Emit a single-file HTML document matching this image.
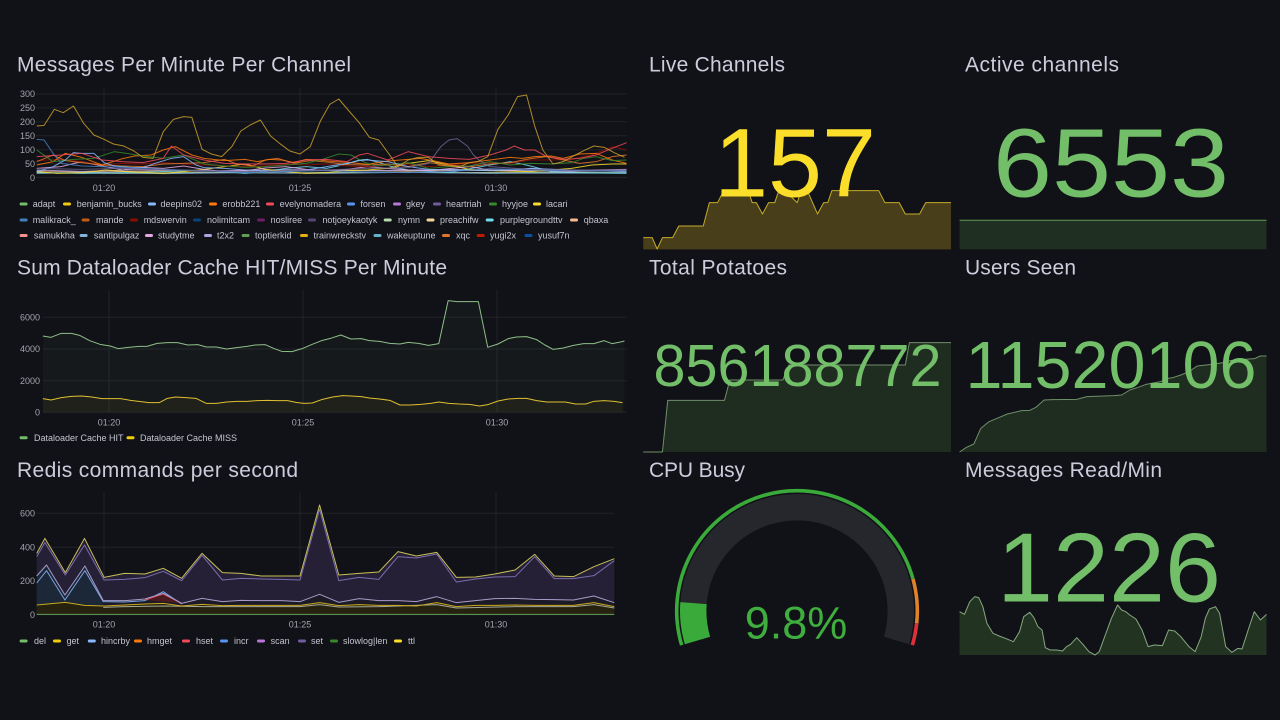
<!DOCTYPE html>
<html><head><meta charset="utf-8"><style>
html,body{margin:0;padding:0;background:#111217;width:1280px;height:720px;overflow:hidden}
svg{display:block}
text{font-family:"Liberation Sans",Arial,sans-serif}
.t{fill:#ccccdc;font-size:21px}
.tk{fill:#a4a5ad;font-size:9px}
.lg{fill:#c4c4d0;font-size:9px}
.g line{stroke:#212328;stroke-width:1}
.s polyline{fill:none;stroke-width:1;vector-effect:non-scaling-stroke;stroke-linejoin:round}
.s polygon{stroke:none}
.c1 polyline{stroke-opacity:0.85}
</style></head><body>
<svg width="1280" height="720" viewBox="0 0 1280 720" xmlns="http://www.w3.org/2000/svg">
<rect width="1280" height="720" fill="#111217"/>

<!-- ===== Titles ===== -->
<text class="t" x="17" y="71.7" textLength="334">Messages Per Minute Per Channel</text>
<text class="t" x="649" y="71.7" textLength="136">Live Channels</text>
<text class="t" x="965" y="71.7" textLength="154">Active channels</text>
<text class="t" x="17" y="274.3" textLength="430">Sum Dataloader Cache HIT/MISS Per Minute</text>
<text class="t" x="649" y="274.3" textLength="138">Total Potatoes</text>
<text class="t" x="965" y="274.3" textLength="111">Users Seen</text>
<text class="t" x="17" y="477" textLength="281">Redis commands per second</text>
<text class="t" x="649" y="477" textLength="96">CPU Busy</text>
<text class="t" x="965" y="477" textLength="197">Messages Read/Min</text>

<!-- ===== Chart 1 ===== -->
<g class="g">
<line x1="36" y1="177.5" x2="627" y2="177.5"/><line x1="36" y1="163.6" x2="627" y2="163.6"/>
<line x1="36" y1="149.7" x2="627" y2="149.7"/><line x1="36" y1="135.8" x2="627" y2="135.8"/>
<line x1="36" y1="121.8" x2="627" y2="121.8"/><line x1="36" y1="107.9" x2="627" y2="107.9"/>
<line x1="36" y1="94" x2="627" y2="94"/>
<line x1="104" y1="88" x2="104" y2="177.5"/><line x1="300" y1="88" x2="300" y2="177.5"/><line x1="496" y1="88" x2="496" y2="177.5"/>
</g>
<g class="tk" text-anchor="end">
<text x="35" y="97">300</text><text x="35" y="111">250</text><text x="35" y="125">200</text>
<text x="35" y="139">150</text><text x="35" y="153">100</text><text x="35" y="167">50</text><text x="35" y="181">0</text>
</g>
<g class="tk" text-anchor="middle"><text x="104" y="191">01:20</text><text x="300" y="191">01:25</text><text x="496" y="191">01:30</text></g>

<g class="s c1" transform="translate(0,40) scale(0.408163,0.333333)">
<polyline stroke="#B7DBAB" points="90,398 300,400 500,397 700,399 900,396 1100,398 1300,397 1535,398"/>
<polyline stroke="#F9BA8F" points="90,393 250,396 400,392 600,394 800,390 1000,393 1200,391 1400,394 1535,392"/>
<polyline stroke="#82B5D8" points="90,400 200,397 400,401 600,398 800,400 1000,397 1200,400 1535,399"/>
<polyline stroke="#AEA2E0" points="90,390 200,394 350,389 500,393 700,389 900,392 1100,388 1300,393 1535,391"/>
<polyline stroke="#70DBED" points="90,398 200,400 300,398 400,395 500,390 550,395 600,400 650,395 700,385 750,380 800,385 850,372 880,360 900,358 930,368 960,380 1000,390 1100,398 1200,375 1250,365 1300,378 1350,395 1400,398 1535,400"/>
<polyline stroke="#FADE2A" points="90,395 140,400 200,398 260,390 310,395 360,398 400,400 450,395 500,388 550,380 600,372 650,388 700,395 750,400 800,398 850,392 900,390 950,385 975,378 1000,370 1050,362 1100,375 1150,388 1200,392 1300,395 1400,385 1450,375 1500,372 1535,372"/>
<polyline stroke="#E5A8E2" points="90,385 150,380 200,365 250,378 300,390 350,382 400,385 450,378 500,388 550,395 600,392 650,384 700,380 750,388 800,392 850,388 900,380 950,385 1000,390 1050,392 1100,386 1150,380 1200,390 1250,392 1300,385 1350,392 1400,395 1450,390 1535,388"/>
<polyline stroke="#890F02" points="90,362 150,358 200,365 250,375 300,370 350,372 400,368 450,372 500,375 550,378 600,380 650,378 700,372 750,375 800,372 850,378 900,380 950,376 1000,372 1050,380 1100,375 1150,370 1200,368 1250,370 1300,360 1350,360 1400,358 1450,345 1500,320 1535,330"/>
<polyline stroke="#E0752D" points="90,365 130,345 160,362 200,368 250,375 300,378 350,380 400,372 450,370 500,368 550,358 580,372 620,378 650,360 680,355 720,370 760,362 800,366 850,374 900,375 950,372 1000,380 1050,368 1100,375 1150,380 1200,372 1250,368 1300,356 1340,350 1380,360 1420,370 1460,365 1500,350 1535,345"/>
<polyline stroke="#FF780A" points="90,375 130,365 160,340 200,352 250,375 300,356 330,348 370,345 400,330 430,320 470,345 500,355 550,362 600,358 630,365 660,358 690,360 720,368 750,358 780,360 820,365 860,368 900,373 950,363 1000,358 1030,355 1060,362 1100,372 1150,368 1200,360 1250,352 1280,355 1310,350 1350,348 1380,355 1420,342 1460,340 1500,360 1535,370"/>
<polyline stroke="#37872D" points="90,330 130,365 180,358 230,355 280,335 310,340 350,348 400,355 450,345 500,372 550,378 600,382 650,380 700,375 750,370 790,358 830,342 860,345 890,365 920,378 950,375 1000,368 1050,385 1100,380 1150,378 1200,365 1250,375 1300,370 1350,372 1400,368 1430,355 1460,350 1500,362 1535,360"/>
<polyline stroke="#8AB8FF" points="90,395 130,380 160,360 180,338 200,340 230,340 255,368 280,378 320,382 350,383 380,370 420,355 450,350 480,375 500,383 550,385 600,390 650,392 700,395 750,390 800,380 850,370 880,362 900,360 950,365 1000,380 1050,388 1100,390 1200,392 1300,385 1400,390 1535,395"/>
<polyline stroke="#447EBC" points="90,298 108,300 130,340 150,370 200,378 300,382 400,388 500,392 600,398 700,395 800,392 900,396 1000,398 1100,395 1200,386 1300,390 1400,393 1535,392"/>
<polyline stroke="#6f6490" points="90,385 200,388 300,385 400,390 500,392 600,395 700,392 800,390 900,385 1000,383 1050,370 1080,320 1100,300 1120,296 1145,318 1160,345 1175,362 1200,380 1300,388 1400,390 1535,390"/>
<polyline stroke="#F2495C" points="90,350 150,345 200,340 250,360 300,365 350,368 400,355 420,318 450,345 500,360 550,370 600,372 650,372 700,370 750,360 800,358 850,365 880,345 900,340 950,360 1000,335 1050,350 1100,355 1150,358 1200,345 1240,330 1260,318 1285,330 1310,330 1340,350 1380,358 1420,355 1460,345 1500,325 1535,308"/>
<polyline stroke="#C9A02C" points="90,258 108,256 133,208 155,218 180,198 205,250 230,285 255,298 278,312 303,318 328,333 350,352 375,355 400,275 425,238 450,230 470,232 495,328 518,342 543,350 568,320 590,273 613,255 638,240 663,288 688,313 710,333 735,342 760,320 785,243 808,193 830,177 855,213 880,248 905,292 928,300 953,342 975,380 1000,360 1025,352 1050,352 1075,375 1100,378 1125,380 1150,368 1170,365 1195,350 1220,268 1245,225 1268,170 1290,165 1310,258 1330,330 1355,372 1380,365 1405,348 1430,332 1455,318 1480,322 1505,338 1530,352"/>
</g>

<!-- Chart 1 legend -->
<g>
<rect x="19.6" y="202.5" width="8" height="3" rx="1.5" fill="#73BF69"/><text class="lg" x="32.7" y="207.2">adapt</text>
<rect x="63" y="202.5" width="8" height="3" rx="1.5" fill="#F2CC0C"/><text class="lg" x="76.7" y="207.2">benjamin_bucks</text>
<rect x="148" y="202.5" width="8" height="3" rx="1.5" fill="#8AB8FF"/><text class="lg" x="160.5" y="207.2">deepins02</text>
<rect x="209" y="202.5" width="8" height="3" rx="1.5" fill="#FF780A"/><text class="lg" x="222.4" y="207.2">erobb221</text>
<rect x="266" y="202.5" width="8" height="3" rx="1.5" fill="#F2495C"/><text class="lg" x="279.6" y="207.2">evelynomadera</text>
<rect x="347" y="202.5" width="8" height="3" rx="1.5" fill="#5794F2"/><text class="lg" x="360.4" y="207.2">forsen</text>
<rect x="393" y="202.5" width="8" height="3" rx="1.5" fill="#B877D9"/><text class="lg" x="406" y="207.2">gkey</text>
<rect x="433" y="202.5" width="8" height="3" rx="1.5" fill="#705DA0"/><text class="lg" x="446" y="207.2">heartriah</text>
<rect x="489" y="202.5" width="8" height="3" rx="1.5" fill="#37872D"/><text class="lg" x="502" y="207.2">hyyjoe</text>
<rect x="533" y="202.5" width="8" height="3" rx="1.5" fill="#FADE2A"/><text class="lg" x="546" y="207.2">lacari</text>

<rect x="19.6" y="218.5" width="8" height="3" rx="1.5" fill="#447EBC"/><text class="lg" x="32.7" y="223.2">malikrack_</text>
<rect x="81.6" y="218.5" width="8" height="3" rx="1.5" fill="#C15C17"/><text class="lg" x="96" y="223.2">mande</text>
<rect x="130" y="218.5" width="8" height="3" rx="1.5" fill="#890F02"/><text class="lg" x="143.7" y="223.2">mdswervin</text>
<rect x="193" y="218.5" width="8" height="3" rx="1.5" fill="#0A437C"/><text class="lg" x="207" y="223.2">nolimitcam</text>
<rect x="257" y="218.5" width="8" height="3" rx="1.5" fill="#6D1F62"/><text class="lg" x="270.6" y="223.2">nosliree</text>
<rect x="308" y="218.5" width="8" height="3" rx="1.5" fill="#584477"/><text class="lg" x="322.4" y="223.2">notjoeykaotyk</text>
<rect x="383.7" y="218.5" width="8" height="3" rx="1.5" fill="#B7DBAB"/><text class="lg" x="398" y="223.2">nymn</text>
<rect x="426.5" y="218.5" width="8" height="3" rx="1.5" fill="#F4D598"/><text class="lg" x="440" y="223.2">preachifw</text>
<rect x="485.7" y="218.5" width="8" height="3" rx="1.5" fill="#70DBED"/><text class="lg" x="500" y="223.2">purplegroundttv</text>
<rect x="570" y="218.5" width="8" height="3" rx="1.5" fill="#F9BA8F"/><text class="lg" x="583.7" y="223.2">qbaxa</text>

<rect x="19.6" y="234" width="8" height="3" rx="1.5" fill="#F29191"/><text class="lg" x="33.9" y="238.7">samukkha</text>
<rect x="79.6" y="234" width="8" height="3" rx="1.5" fill="#82B5D8"/><text class="lg" x="93.9" y="238.7">santipulgaz</text>
<rect x="145" y="234" width="8" height="3" rx="1.5" fill="#E5A8E2"/><text class="lg" x="158" y="238.7">studytme</text>
<rect x="204" y="234" width="8" height="3" rx="1.5" fill="#AEA2E0"/><text class="lg" x="217" y="238.7">t2x2</text>
<rect x="241.6" y="234" width="8" height="3" rx="1.5" fill="#629E51"/><text class="lg" x="255" y="238.7">toptierkid</text>
<rect x="300" y="234" width="8" height="3" rx="1.5" fill="#E5AC0E"/><text class="lg" x="313.5" y="238.7">trainwreckstv</text>
<rect x="373.5" y="234" width="8" height="3" rx="1.5" fill="#64B0C8"/><text class="lg" x="387" y="238.7">wakeuptune</text>
<rect x="442" y="234" width="8" height="3" rx="1.5" fill="#E0752D"/><text class="lg" x="456" y="238.7">xqc</text>
<rect x="476.7" y="234" width="8" height="3" rx="1.5" fill="#BF1B00"/><text class="lg" x="490" y="238.7">yugi2x</text>
<rect x="524.5" y="234" width="8" height="3" rx="1.5" fill="#0A50A1"/><text class="lg" x="538" y="238.7">yusuf7n</text>
</g>

<!-- ===== Chart 2 Dataloader ===== -->
<g class="g">
<line x1="43" y1="412.3" x2="627" y2="412.3"/><line x1="43" y1="380.7" x2="627" y2="380.7"/>
<line x1="43" y1="349" x2="627" y2="349"/><line x1="43" y1="317.3" x2="627" y2="317.3"/>
<line x1="109" y1="290" x2="109" y2="412.3"/><line x1="303" y1="290" x2="303" y2="412.3"/><line x1="497" y1="290" x2="497" y2="412.3"/>
</g>
<g class="tk" text-anchor="end">
<text x="40" y="320.5">6000</text><text x="40" y="352">4000</text><text x="40" y="384">2000</text><text x="40" y="415.5">0</text>
</g>
<g class="tk" text-anchor="middle"><text x="109" y="425.5">01:20</text><text x="303" y="425.5">01:25</text><text x="497" y="425.5">01:30</text></g>
<g class="s" transform="translate(0,250) scale(0.408163,0.333333)">
<polygon fill="#73BF69" fill-opacity="0.045" points="105,258 125,262 150,250 175,250 195,256 220,272 245,283 270,288 290,296 315,292 340,289 360,289 385,280 410,278 435,278 460,285 485,284 505,291 530,291 555,297 580,293 605,289 625,285 650,284 670,295 690,304 715,305 740,296 765,283 790,271 810,265 835,255 860,267 885,266 905,272 930,274 955,280 980,282 1000,277 1025,280 1050,286 1075,281 1098,152 1120,155 1145,155 1172,155 1195,292 1220,282 1245,266 1265,261 1290,260 1315,269 1335,285 1355,298 1380,294 1405,286 1430,281 1455,281 1480,272 1500,281 1520,276 1530,273 1530,487 105,487"/>
<polygon fill="#F2CC0C" fill-opacity="0.05" points="105,446 125,450 150,443 175,439 200,438 225,441 250,446 275,446 295,446 320,451 345,455 365,458 390,458 410,445 430,441 455,443 480,445 505,460 530,460 555,456 580,454 605,454 630,452 655,451 680,452 705,452 725,457 745,460 765,459 790,448 815,441 840,437 860,438 885,440 905,444 930,447 955,451 980,465 1005,465 1030,463 1055,460 1075,456 1100,460 1125,462 1150,463 1175,468 1195,464 1220,453 1245,447 1270,445 1290,445 1315,452 1340,456 1365,456 1385,456 1410,462 1435,462 1455,454 1480,452 1505,454 1525,458 1525,487 105,487"/>
<polyline stroke="#8fbf88" points="105,258 125,262 150,250 175,250 195,256 220,272 245,283 270,288 290,296 315,292 340,289 360,289 385,280 410,278 435,278 460,285 485,284 505,291 530,291 555,297 580,293 605,289 625,285 650,284 670,295 690,304 715,305 740,296 765,283 790,271 810,265 835,255 860,267 885,266 905,272 930,274 955,280 980,282 1000,277 1025,280 1050,286 1075,281 1098,152 1120,155 1145,155 1172,155 1195,292 1220,282 1245,266 1265,261 1290,260 1315,269 1335,285 1355,298 1380,294 1405,286 1430,281 1455,281 1480,272 1500,281 1520,276 1530,273"/>
<polyline stroke="#E0C030" points="105,446 125,450 150,443 175,439 200,438 225,441 250,446 275,446 295,446 320,451 345,455 365,458 390,458 410,445 430,441 455,443 480,445 505,460 530,460 555,456 580,454 605,454 630,452 655,451 680,452 705,452 725,457 745,460 765,459 790,448 815,441 840,437 860,438 885,440 905,444 930,447 955,451 980,465 1005,465 1030,463 1055,460 1075,456 1100,460 1125,462 1150,463 1175,468 1195,464 1220,453 1245,447 1270,445 1290,445 1315,452 1340,456 1365,456 1385,456 1410,462 1435,462 1455,454 1480,452 1505,454 1525,458"/>
</g>
<rect x="19.6" y="436.2" width="8" height="3" rx="1.5" fill="#73BF69"/><text class="lg" x="34" y="440.9">Dataloader Cache HIT</text>
<rect x="126.5" y="436.2" width="8" height="3" rx="1.5" fill="#F2CC0C"/><text class="lg" x="140" y="440.9">Dataloader Cache MISS</text>

<!-- ===== Chart 3 Redis ===== -->
<g class="g">
<line x1="36.7" y1="614.7" x2="614" y2="614.7"/><line x1="36.7" y1="581" x2="614" y2="581"/>
<line x1="36.7" y1="547.3" x2="614" y2="547.3"/><line x1="36.7" y1="513.3" x2="614" y2="513.3"/>
<line x1="104" y1="493" x2="104" y2="614.7"/><line x1="300" y1="493" x2="300" y2="614.7"/><line x1="496" y1="493" x2="496" y2="614.7"/>
</g>
<g class="tk" text-anchor="end">
<text x="35" y="516.5">600</text><text x="35" y="550.5">400</text><text x="35" y="584">200</text><text x="35" y="618">0</text>
</g>
<g class="tk" text-anchor="middle"><text x="104" y="627.5">01:20</text><text x="300" y="627.5">01:25</text><text x="496" y="627.5">01:30</text></g>
<g class="s" transform="translate(0,450) scale(0.408163,0.333333)">
<polygon fill="#262036" points="90,310 110,265 160,368 207,265 255,382 305,370 355,372 400,355 445,385 495,310 545,368 590,370 640,378 690,378 735,378 783,165 830,375 880,370 928,366 975,305 1020,318 1070,307 1118,382 1165,381 1212,372 1262,360 1310,313 1358,378 1405,380 1455,350 1505,326 1505,494 90,494"/>
<polygon fill="#1c1a26" points="253,452 305,452 355,447 400,428 445,460 495,445 545,455 590,451 640,452 690,452 735,455 783,433 830,457 880,446 928,452 975,452 1020,455 1070,440 1118,458 1165,452 1212,446 1262,445 1310,448 1358,449 1405,450 1455,438 1505,458 1505,494 253,494"/>
<polygon fill="#1c2838" points="90,378 114,345 159,435 208,348 253,452 253,494 90,494"/>
<polygon fill="#25230f" points="90,465 160,457 207,466 255,468 305,465 355,462 400,460 445,468 495,463 545,467 590,466 640,466 690,466 735,466 783,458 830,467 880,464 928,466 975,466 1020,468 1070,458 1118,470 1165,466 1212,466 1262,465 1310,466 1358,466 1405,466 1455,458 1505,470 1505,494 90,494"/>
<polygon fill="#4a1a20" points="355,450 400,434 445,460"/>
<polyline stroke="#7a6cae" points="90,320 110,278 160,375 207,285 255,390 305,388 355,383 400,364 445,392 495,316 545,390 590,385 640,387 690,388 735,390 783,178 830,392 880,382 928,388 975,320 1020,324 1070,312 1118,396 1165,387 1212,381 1262,380 1310,320 1358,386 1405,386 1455,377 1505,332"/>
<polyline stroke="#c8bf58" points="90,310 110,265 160,368 207,265 255,382 305,370 355,372 400,355 445,385 495,310 545,368 590,370 640,378 690,378 735,378 783,165 830,375 880,370 928,366 975,305 1020,318 1070,307 1118,382 1165,381 1212,372 1262,360 1310,313 1358,378 1405,380 1455,350 1505,326"/>
<polyline stroke="#7aa2e0" points="90,399 114,362 159,450 208,362 253,455 305,456 355,452 400,425 445,462"/>
<polyline stroke="#d8485a" points="355,450 400,432 445,460"/>
<polyline stroke="#a89cc8" points="90,378 114,345 159,435 208,348 253,452 305,452 355,447 400,430 445,460 495,445 545,455 590,451 640,452 690,452 735,455 783,433 830,457 880,446 928,452 975,452 1020,455 1070,440 1118,458 1165,452 1212,446 1262,445 1310,448 1358,449 1405,450 1455,438 1505,458"/>
<polyline stroke="#a8a898" points="253,472 305,470 400,468 500,470 600,470 735,470 783,464 830,471 928,470 1070,464 1118,474 1262,470 1405,470 1455,464 1505,474"/>
<polyline stroke="#c8a820" points="90,465 160,457 207,466 255,468 305,465 355,462 400,460 445,468 495,463 545,467 590,466 640,466 690,466 735,466 783,458 830,467 880,464 928,466 975,466 1020,468 1070,458 1118,470 1165,466 1212,466 1262,465 1310,466 1358,466 1405,466 1455,458 1505,470"/>
<polyline stroke="#5f9f58" points="90,493 1505,493"/>
</g>
<g>
<rect x="19.6" y="639.5" width="8" height="3" rx="1.5" fill="#73BF69"/><text class="lg" x="34" y="644.2">del</text>
<rect x="53" y="639.5" width="8" height="3" rx="1.5" fill="#F2CC0C"/><text class="lg" x="66.5" y="644.2">get</text>
<rect x="87.8" y="639.5" width="8" height="3" rx="1.5" fill="#8AB8FF"/><text class="lg" x="101" y="644.2">hincrby</text>
<rect x="134" y="639.5" width="8" height="3" rx="1.5" fill="#FF780A"/><text class="lg" x="147" y="644.2">hmget</text>
<rect x="182" y="639.5" width="8" height="3" rx="1.5" fill="#F2495C"/><text class="lg" x="196" y="644.2">hset</text>
<rect x="220" y="639.5" width="8" height="3" rx="1.5" fill="#5794F2"/><text class="lg" x="234" y="644.2">incr</text>
<rect x="257" y="639.5" width="8" height="3" rx="1.5" fill="#B877D9"/><text class="lg" x="270.6" y="644.2">scan</text>
<rect x="298" y="639.5" width="8" height="3" rx="1.5" fill="#705DA0"/><text class="lg" x="311" y="644.2">set</text>
<rect x="330" y="639.5" width="8" height="3" rx="1.5" fill="#37872D"/><text class="lg" x="343" y="644.2">slowlog|len</text>
<rect x="394" y="639.5" width="8" height="3" rx="1.5" fill="#FADE2A"/><text class="lg" x="408" y="644.2">ttl</text>
</g>

<!-- ===== Live Channels ===== -->
<g class="s" transform="translate(640,40) scale(0.408163,0.333333)">
<polygon fill="#483f1a" points="8,593 30,593 42,627 55,593 80,593 95,558 155,558 170,488 190,488 205,452 265,452 275,488 285,488 300,522 315,488 330,488 340,452 355,452 385,488 395,452 410,452 435,522 450,488 460,488 470,452 585,452 600,488 635,488 650,522 685,522 700,488 762,488 762,628 8,628"/>
<polyline stroke="#c4ab28" points="8,593 30,593 42,627 55,593 80,593 95,558 155,558 170,488 190,488 205,452 265,452 275,488 285,488 300,522 315,488 330,488 340,452 355,452 385,488 395,452 410,452 435,522 450,488 460,488 470,452 585,452 600,488 635,488 650,522 685,522 700,488 762,488"/>
</g>
<text x="795" y="196.5" text-anchor="middle" font-size="97" fill="#FADE2A">157</text>

<!-- ===== Active channels ===== -->
<rect x="959.6" y="220.3" width="306.9" height="29" fill="#1f2f22"/>
<line x1="959.6" y1="220.3" x2="1266.5" y2="220.3" stroke="#5f9a58" stroke-width="1"/>
<text x="1111" y="196.5" text-anchor="middle" font-size="97" fill="#73BF69" textLength="236" lengthAdjust="spacingAndGlyphs">6553</text>

<!-- ===== Total Potatoes / Users Seen ===== -->
<g class="s" transform="translate(640,250) scale(0.408163,0.333333)">
<polygon fill="#1f2c20" points="8,606 55,606 68,451 207,451 220,390 350,390 365,345 650,345 660,278 762,278 762,606"/>
<polyline stroke="#6f8f6a" points="8,606 55,606 68,451 207,451 220,390 350,390 365,345 650,345 660,278 762,278"/>
<polygon fill="#1f2c20" points="783,606 800,592 818,582 835,535 855,515 875,505 900,492 935,482 955,481 970,472 990,450 1010,449 1070,448 1095,440 1160,437 1180,435 1200,420 1225,410 1240,403 1275,395 1290,386 1305,383 1325,375 1345,365 1365,348 1395,344 1430,338 1445,332 1480,328 1505,326 1520,318 1535,318 1535,606"/>
<polyline stroke="#6f8f6a" points="783,606 800,592 818,582 835,535 855,515 875,505 900,492 935,482 955,481 970,472 990,450 1010,449 1070,448 1095,440 1160,437 1180,435 1200,420 1225,410 1240,403 1275,395 1290,386 1305,383 1325,375 1345,365 1365,348 1395,344 1430,338 1445,332 1480,328 1505,326 1520,318 1535,318"/>
</g>
<text x="797.5" y="386" text-anchor="middle" font-size="59" fill="#73BF69" textLength="288" lengthAdjust="spacingAndGlyphs">856188772</text>
<text x="1111" y="388" text-anchor="middle" font-size="67" fill="#73BF69" textLength="291" lengthAdjust="spacingAndGlyphs">11520106</text>

<!-- ===== CPU Busy gauge ===== -->
<path d="M697.48,640.48 A103.8,103.8 0 1 1 896.52,640.48" fill="none" stroke="#25272c" stroke-width="26.4"/>
<path d="M697.48,640.48 A103.8,103.8 0 0 1 693.5,603.09" fill="none" stroke="#3aaa3a" stroke-width="26.4"/>
<path d="M681.66,645.16 A120.3,120.3 0 1 1 912.96,578.95" fill="none" stroke="#3aaa3a" stroke-width="3.6"/>
<path d="M912.96,578.95 A120.3,120.3 0 0 1 916.67,623.26" fill="none" stroke="#e0822a" stroke-width="3.6"/>
<path d="M916.67,623.26 A120.3,120.3 0 0 1 912.34,645.16" fill="none" stroke="#e02f38" stroke-width="3.6"/>
<text x="796" y="638.3" text-anchor="middle" font-size="45" fill="#3fae3f">9.8%</text>

<!-- ===== Messages Read/Min ===== -->
<g class="s" transform="translate(640,455) scale(0.408163,0.333333)">
<polygon fill="#233322" points="783,470 795,478 808,440 820,425 830,428 840,455 850,505 865,535 880,543 895,550 915,560 930,530 940,485 955,472 965,488 975,515 985,525 993,578 1005,585 1020,585 1035,588 1045,575 1055,568 1070,548 1085,568 1100,590 1115,600 1125,590 1140,540 1155,490 1170,450 1180,465 1190,470 1200,480 1215,492 1230,525 1245,575 1260,570 1280,572 1295,525 1310,528 1325,545 1345,575 1360,590 1375,545 1385,490 1395,462 1410,455 1420,475 1435,575 1450,592 1465,580 1475,582 1490,525 1505,470 1520,495 1535,478 1535,600 783,600"/>
<polyline stroke="#86a882" points="783,470 795,478 808,440 820,425 830,428 840,455 850,505 865,535 880,543 895,550 915,560 930,530 940,485 955,472 965,488 975,515 985,525 993,578 1005,585 1020,585 1035,588 1045,575 1055,568 1070,548 1085,568 1100,590 1115,600 1125,590 1140,540 1155,490 1170,450 1180,465 1190,470 1200,480 1215,492 1230,525 1245,575 1260,570 1280,572 1295,525 1310,528 1325,545 1345,575 1360,590 1375,545 1385,490 1395,462 1410,455 1420,475 1435,575 1450,592 1465,580 1475,582 1490,525 1505,470 1520,495 1535,478"/>
</g>
<text x="1109" y="601.7" text-anchor="middle" font-size="98" fill="#73BF69" textLength="224" lengthAdjust="spacingAndGlyphs">1226</text>
</svg>
</body></html>
